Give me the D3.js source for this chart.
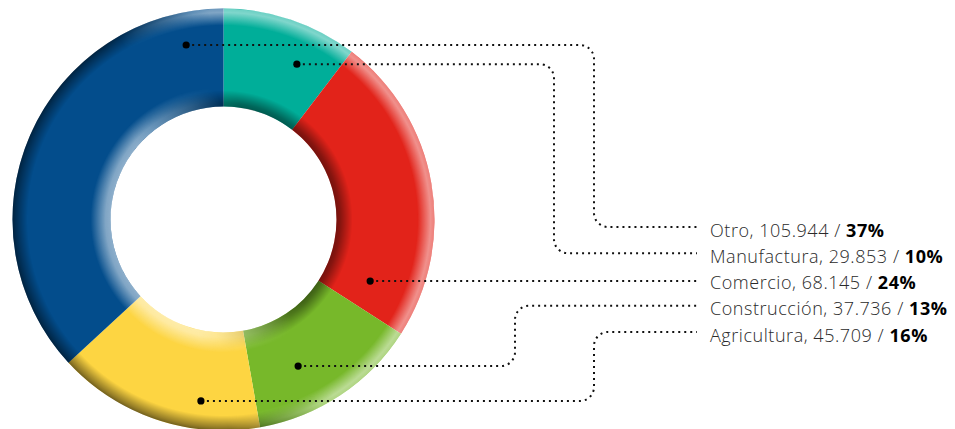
<!DOCTYPE html>
<html>
<head>
<meta charset="utf-8">
<script src="https://cdn.jsdelivr.net/npm/d3@7"></script>
<style>
  body { margin: 0; background: #fff; }
  svg { display: block; }
</style>
</head>
<body>
<svg id="chart" width="955" height="429"></svg>
<script>
// Employment by sector, in slice order (clockwise from 12 o'clock)
const categories = ["Manufactura", "Comercio", "Construcción", "Agricultura", "Otro"];
const values = [29853, 68145, 37736, 45709, 105944];
const colors = ["#00AE99", "#E2231A", "#77B82A", "#FDD542", "#034D8C"];
// order of the label rows on the right
const legendOrder = ["Otro", "Manufactura", "Comercio", "Construcción", "Agricultura"];

// where each leader starts inside its slice: share of the slice's sweep, share of the ring's thickness
const anchorAlong = [0.676, 0.883, 0.64, 0.298, 0.909];
const anchorAcross = [0.60, 0.47, 0.525, 0.713, 0.668];
// x of the vertical run of each leader (null = straight line)
const elbowX = [554, null, 515, 594, 594];

const W = 955, H = 429;
const cx = 223.5, cy = 219.5, R = 211, r = 113;

const svg = d3.select("#chart");
const defs = svg.append("defs");

const locale = d3.formatLocale({ decimal: ",", thousands: ".", grouping: [3] });
const fmtNum = locale.format(",d");
const total = d3.sum(values);

const pie = d3.pie().sort(null).value(d => d.value);
const data = categories.map((c, i) => ({ name: c, value: values[i], color: colors[i], i }));
const arcs = pie(data);
const arcGen = d3.arc().innerRadius(r).outerRadius(R);

const g = svg.append("g").attr("transform", `translate(${cx},${cy})`);

// flat slices
g.selectAll("path.slice")
  .data(arcs)
  .join("path")
  .attr("class", "slice")
  .attr("d", arcGen)
  .attr("fill", d => d.data.color);

// bevel shading: light falls from the upper right
const ang = 72 * Math.PI / 180;
const ux = Math.sin(ang), uy = -Math.cos(ang);
function dirGradient(id, stops) {
  const lg = defs.append("linearGradient").attr("id", id)
    .attr("gradientUnits", "userSpaceOnUse")
    .attr("x1", -ux * R).attr("y1", -uy * R)
    .attr("x2", ux * R).attr("y2", uy * R);
  stops.forEach(([o, c]) => lg.append("stop").attr("offset", o).attr("stop-color", c));
}
dirGradient("towardLight", [[0.4, "#000"], [0.62, "#fff"]]);
dirGradient("awayLight", [[0.36, "#fff"], [0.58, "#000"]]);

function mask(id, grad) {
  defs.append("mask").attr("id", id)
    .attr("maskUnits", "userSpaceOnUse")
    .attr("x", -R - 5).attr("y", -R - 5).attr("width", 2 * R + 10).attr("height", 2 * R + 10)
    .append("rect")
    .attr("x", -R - 5).attr("y", -R - 5).attr("width", 2 * R + 10).attr("height", 2 * R + 10)
    .attr("fill", `url(#${grad})`);
}
mask("mLit", "towardLight");
mask("mShade", "awayLight");

function radial(id, color, stops) {
  const rg = defs.append("radialGradient").attr("id", id)
    .attr("gradientUnits", "userSpaceOnUse")
    .attr("cx", 0).attr("cy", 0).attr("r", R);
  stops.forEach(([rad, op]) => rg.append("stop")
    .attr("offset", rad / R).attr("stop-color", color).attr("stop-opacity", op));
}
radial("outerLight", "#fff", [[R - 17, 0], [R - 4, 0.5], [R, 0.42]]);
radial("outerDark", "#000", [[R - 15, 0], [R - 3, 0.42], [R, 0.55]]);
radial("innerDark", "#000", [[r, 0.48], [r + 4, 0.4], [r + 16, 0]]);
radial("innerLight", "#fff", [[r, 0.55], [r + 5, 0.5], [r + 20, 0]]);

const ring = (a, b) => d3.arc().innerRadius(a).outerRadius(b)({ startAngle: 0, endAngle: 2 * Math.PI });
const shade = g.append("g").attr("pointer-events", "none");
shade.append("path").attr("d", ring(R - 18, R)).attr("fill", "url(#outerLight)").attr("mask", "url(#mLit)");
shade.append("path").attr("d", ring(R - 18, R)).attr("fill", "url(#outerDark)").attr("mask", "url(#mShade)");
shade.append("path").attr("d", ring(r, r + 20)).attr("fill", "url(#innerDark)").attr("mask", "url(#mLit)");
shade.append("path").attr("d", ring(r, r + 22)).attr("fill", "url(#innerLight)").attr("mask", "url(#mShade)");

// label rows
const rowY = d3.scalePoint().domain(legendOrder).range([227, 332]);
const textX = 710, leaderEnd = 697, corner = 14;

const leaders = svg.append("g");
const labels = svg.append("g")
  .attr("font-family", "'Open Sans', 'Noto Sans', sans-serif")
  .attr("font-size", 18)
  .attr("letter-spacing", 0.55)
  .attr("fill", "#2a2a2a");

arcs.forEach((a, i) => {
  const t = a.startAngle + (a.endAngle - a.startAngle) * anchorAlong[i];
  const rad = r + (R - r) * anchorAcross[i];
  const x0 = cx + rad * Math.sin(t), y0 = cy - rad * Math.cos(t);
  const ly = rowY(a.data.name);

  const p = d3.path();
  p.moveTo(x0, y0);
  if (elbowX[i] == null) {
    p.lineTo(leaderEnd, y0);
  } else {
    const ex = elbowX[i];
    p.arcTo(ex, y0, ex, ly, corner);
    p.arcTo(ex, ly, leaderEnd, ly, corner);
    p.lineTo(leaderEnd, ly);
  }
  leaders.append("path")
    .attr("d", p.toString())
    .attr("fill", "none")
    .attr("stroke", "#111")
    .attr("stroke-width", 2)
    .attr("stroke-dasharray", "2 4");
  leaders.append("circle")
    .attr("cx", x0).attr("cy", y0).attr("r", 3.6).attr("fill", "#000");

  const pct = Math.round(a.data.value / total * 100);
  const txt = labels.append("text")
    .attr("x", textX)
    .attr("y", ly + 9.5);
  txt.append("tspan").attr("font-weight", 300)
    .text(`${a.data.name}, ${fmtNum(a.data.value)} / `);
  txt.append("tspan").attr("font-weight", 700).attr("fill", "#000")
    .text(`${pct}%`);
});
</script>
</body>
</html>
